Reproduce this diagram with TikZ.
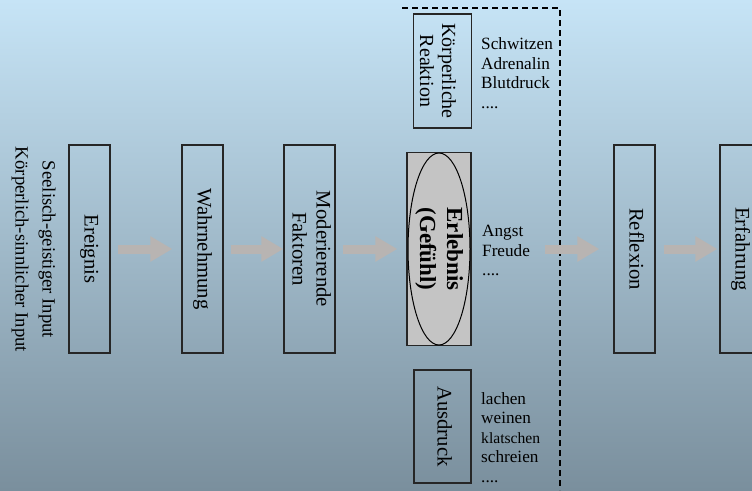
\documentclass[tikz,border=0pt]{standalone}
\usepackage{fontspec}
\setmainfont{Liberation Serif}
\usepackage{graphicx}
\usetikzlibrary{arrows.meta,shapes.geometric}
\definecolor{bgtop}{RGB}{198,228,246}
\definecolor{bgbot}{RGB}{122,143,157}
\definecolor{flowgray}{RGB}{184,180,178}
\definecolor{erlgray}{RGB}{196,196,196}
\newcommand{\vlabel}[1]{\rotatebox{-90}{\begin{tabular}{@{}c@{}}#1\end{tabular}}}

\begin{document}
\begin{tikzpicture}[x=1pt,y=-1pt,
    stage/.style={draw=black!85,line width=1.3pt,inner sep=0pt,font=\fontsize{20.7}{24}\selectfont},
    flow/.style={draw=flowgray,line width=9pt,-{Triangle[width=24pt,length=22pt]}},
    list/.style={anchor=north west,inner sep=0pt,align=left,font=\fontsize{17.2}{19.5}\selectfont}]
    \useasboundingbox (0,0) rectangle (752,490);
    \shade[top color=bgtop,bottom color=bgbot] (0,0) rectangle (752,490);
    \draw[line width=2pt,dash pattern=on 6pt off 4pt] (402,8) -| (560,490);
    \node[rotate=-90,align=center,font=\fontsize{18.7}{27}\selectfont] (input) at (33.5,249.5) {Seelisch-geistiger Input\\Körperlich-sinnlicher Input};
    \node[stage,minimum width=41pt,minimum height=208pt] (ereignis) at (89.5,249) {\vlabel{Ereignis}};
    \node[stage,minimum width=41pt,minimum height=208pt] (wahr) at (202.5,249) {\vlabel{Wahrnehmung}};
    \node[stage,minimum width=51pt,minimum height=208pt] (moder) at (309.5,249) {\vlabel{Moderierende\\Faktoren}};
    \node[stage,fill=erlgray,minimum width=64pt,minimum height=193pt,font=\fontsize{23}{27}\selectfont\bfseries] (erleb) at (439,249) {\vlabel{Erlebnis\\(Gefühl)}};
    \node[draw,ellipse,line width=1pt,inner sep=0pt,minimum width=62pt,minimum height=192pt] (gefuehl) at (erleb) {};
    \node[stage,minimum width=57pt,minimum height=114pt,font=\fontsize{20}{22}\selectfont] (reaktion) at (442.5,71) {\vlabel{Körperliche\\Reaktion}\hspace*{14pt}};
    \node[stage,minimum width=57pt,minimum height=113pt] (ausdruck) at (442.5,426.5) {\vlabel{Ausdruck}};
    \node[stage,minimum width=41pt,minimum height=208pt] (reflex) at (634.5,249) {\vlabel{Reflexion}};
    \node[stage,minimum width=41pt,minimum height=208pt] (erfahr) at (740.5,249) {\vlabel{Erfahrung}};
    \node[list] (koerper) at (481,37.5) {Schwitzen\\Adrenalin\\Blutdruck\\....};
    \node[list] (gefuehle) at (482,225) {Angst\\Freude\\....};
    \node[list] (mimik) at (481,392) {lachen\\weinen\\{\fontsize{15.6}{19.5}\selectfont klatschen}\\schreien\\....};
    \foreach \a/\b/\s/\e in {ereignis/wahr/7/9,wahr/moder/7/0,moder/erleb/7/9,erleb/reflex/73/14,reflex/erfahr/8/2}
      \draw[flow,shorten <=\s pt,shorten >=\e pt] (\a.east) -- (\b.west);
  \end{tikzpicture}
\end{document}
